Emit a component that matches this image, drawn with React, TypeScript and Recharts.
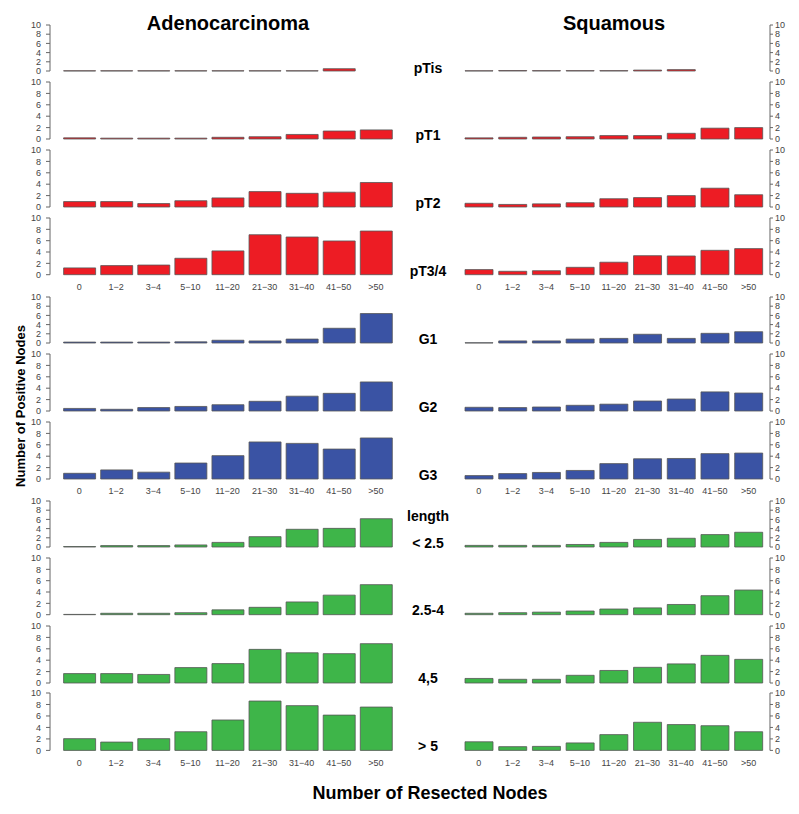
import { BarChart, Bar, XAxis, YAxis } from 'recharts';

const nodeBins = ['0', '1−2', '3−4', '5−10', '11−20', '21−30', '31−40', '41−50', '>50'];
const yTicks = [0, 2, 4, 6, 8, 10];

// Adenocarcinoma, mean positive nodes per bin
const adenoPTis = [0.05, 0.05, 0.05, 0.05, 0.05, 0.05, 0.05, 0.5, null];
const adenoPT1 = [0.2, 0.15, 0.15, 0.15, 0.3, 0.4, 0.8, 1.4, 1.6];
const adenoPT2 = [0.95, 0.95, 0.6, 1.1, 1.6, 2.7, 2.4, 2.6, 4.3];
const adenoPT34 = [1.2, 1.6, 1.7, 2.9, 4.2, 7.05, 6.65, 5.95, 7.7];
const adenoG1 = [0.2, 0.2, 0.2, 0.25, 0.6, 0.45, 0.85, 3.2, 6.4];
const adenoG2 = [0.45, 0.3, 0.6, 0.8, 1.1, 1.7, 2.6, 3.1, 5.1];
const adenoG3 = [1.0, 1.6, 1.2, 2.8, 4.1, 6.5, 6.25, 5.25, 7.2];
const adenoLen25 = [0.1, 0.3, 0.3, 0.45, 1.0, 2.25, 3.85, 4.05, 6.15];
const adenoLen254 = [0.05, 0.25, 0.25, 0.35, 0.85, 1.3, 2.25, 3.45, 5.3];
const adenoLen45 = [1.65, 1.65, 1.5, 2.7, 3.4, 5.9, 5.3, 5.15, 6.9];
const adenoLen5 = [2.05, 1.45, 2.05, 3.25, 5.3, 8.6, 7.8, 6.15, 7.55];

// Squamous
const squamPTis = [0.05, 0.1, 0.08, 0.08, 0.08, 0.2, 0.3, null, null];
const squamPT1 = [0.2, 0.3, 0.35, 0.4, 0.6, 0.6, 1.0, 1.9, 2.0];
const squamPT2 = [0.65, 0.45, 0.55, 0.75, 1.45, 1.65, 2.0, 3.3, 2.15];
const squamPT34 = [0.9, 0.6, 0.7, 1.3, 2.2, 3.35, 3.3, 4.3, 4.6];
const squamG1 = [0.05, 0.45, 0.45, 0.85, 1.0, 1.9, 1.0, 2.1, 2.45];
const squamG2 = [0.65, 0.6, 0.7, 1.0, 1.2, 1.75, 2.1, 3.35, 3.15];
const squamG3 = [0.6, 0.95, 1.15, 1.5, 2.7, 3.55, 3.6, 4.45, 4.55];
const squamLen25 = [0.35, 0.35, 0.35, 0.55, 1.0, 1.65, 1.9, 2.7, 3.2];
const squamLen254 = [0.25, 0.35, 0.45, 0.65, 1.0, 1.2, 1.8, 3.35, 4.35];
const squamLen45 = [0.8, 0.65, 0.65, 1.35, 2.2, 2.75, 3.35, 4.85, 4.15];
const squamLen5 = [1.5, 0.65, 0.7, 1.3, 2.75, 4.9, 4.5, 4.3, 3.25];

const RED = '#ED1C24';
const BLUE = '#3A53A4';
const GREEN = '#3EB549';
const FONT = '"Liberation Sans", Arial, Helvetica, sans-serif';

// top = pixel y of value 10, bottom = pixel y of value 0
const rows = [
  { label: 'pTis', adeno: adenoPTis, squam: squamPTis, color: RED, top: 25, bottom: 71, labelY: 68, showX: false },
  { label: 'pT1', adeno: adenoPT1, squam: squamPT1, color: RED, top: 82.3, bottom: 139.3, labelY: 135, showX: false },
  { label: 'pT2', adeno: adenoPT2, squam: squamPT2, color: RED, top: 150.3, bottom: 207.3, labelY: 203, showX: false },
  { label: 'pT3/4', adeno: adenoPT34, squam: squamPT34, color: RED, top: 218.3, bottom: 275, labelY: 271, showX: true },
  { label: 'G1', adeno: adenoG1, squam: squamG1, color: BLUE, top: 296.7, bottom: 342.7, labelY: 339, showX: false },
  { label: 'G2', adeno: adenoG2, squam: squamG2, color: BLUE, top: 354, bottom: 411, labelY: 407, showX: false },
  { label: 'G3', adeno: adenoG3, squam: squamG3, color: BLUE, top: 422, bottom: 479, labelY: 475, showX: true },
  { label: '< 2.5', adeno: adenoLen25, squam: squamLen25, color: GREEN, top: 500.7, bottom: 546.7, labelY: 543, showX: false },
  { label: '2.5-4', adeno: adenoLen254, squam: squamLen254, color: GREEN, top: 558, bottom: 614.7, labelY: 610, showX: false },
  { label: '4,5', adeno: adenoLen45, squam: squamLen45, color: GREEN, top: 625.7, bottom: 682.7, labelY: 678, showX: false },
  { label: '> 5', adeno: adenoLen5, squam: squamLen5, color: GREEN, top: 693.3, bottom: 750.7, labelY: 746, showX: true },
];

function Panel(props: {
  values: (number | null)[];
  color: string;
  side: 'left' | 'right';
  top: number;
  bottom: number;
  showX: boolean;
}) {
  const { values, color, side, top, bottom, showX } = props;
  const data = nodeBins.map((b, i) => ({ bin: b, v: values[i] }));
  const mt = 6;
  const mb = showX ? 0 : 4;
  const xh = 20;
  const h = bottom - top + mt + (showX ? xh : mb);
  const isLeft = side === 'left';
  const tickStyle = { fontSize: 9, fill: '#444', fontFamily: FONT };

  return (
    <div style={{ position: 'absolute', left: isLeft ? 0 : 400, top: top - mt }}>
      <BarChart
        width={400}
        height={h}
        data={data}
        margin={isLeft ? { top: mt, right: 5.6, bottom: mb, left: 0 } : { top: mt, right: 0, bottom: mb, left: 62 }}
      >
        <XAxis
          dataKey="bin"
          hide={!showX}
          height={xh}
          axisLine={false}
          tickLine={false}
          tickSize={0}
          tickMargin={9}
          interval={0}
          tick={tickStyle}
          padding={isLeft ? { left: 10.6, right: 0 } : { left: 0, right: 4.6 }}
        />
        <YAxis
          orientation={isLeft ? 'left' : 'right'}
          width={isLeft ? 50 : 30}
          domain={[0, 10]}
          ticks={yTicks}
          interval={0}
          tickSize={isLeft ? 4 : 3}
          tickMargin={isLeft ? 5 : 2}
          tick={tickStyle}
          axisLine={{ stroke: '#666' }}
          tickLine={{ stroke: '#666' }}
        />
        <Bar
          dataKey="v"
          fill={color}
          stroke="#555"
          strokeWidth={0.8}
          barSize={isLeft ? 32 : 28}
          isAnimationActive={false}
        />
      </BarChart>
    </div>
  );
}

export default function App() {
  return (
    <div
      style={{
        position: 'absolute',
        left: 0,
        top: 0,
        width: 799,
        height: 814,
        background: '#fff',
        fontFamily: FONT,
      }}
    >
      {rows.map((r) => (
        <Panel key={'a' + r.label} values={r.adeno} color={r.color} side="left" top={r.top} bottom={r.bottom} showX={r.showX} />
      ))}
      {rows.map((r) => (
        <Panel key={'s' + r.label} values={r.squam} color={r.color} side="right" top={r.top} bottom={r.bottom} showX={r.showX} />
      ))}
      <svg
        width={799}
        height={814}
        style={{ position: 'absolute', left: 0, top: 0, pointerEvents: 'none' }}
        fontFamily={FONT}
        fontWeight="bold"
      >
        <text x={228} y={23} textAnchor="middle" dominantBaseline="central" fontSize={20}>
          Adenocarcinoma
        </text>
        <text x={614} y={23} textAnchor="middle" dominantBaseline="central" fontSize={20}>
          Squamous
        </text>
        {rows.map((r) => (
          <text key={r.label} x={428} y={r.labelY} textAnchor="middle" dominantBaseline="central" fontSize={14}>
            {r.label}
          </text>
        ))}
        <text x={428} y={516} textAnchor="middle" dominantBaseline="central" fontSize={14}>
          length
        </text>
        <text
          x={20}
          y={406}
          textAnchor="middle"
          dominantBaseline="central"
          fontSize={13}
          transform="rotate(-90 20 406)"
        >
          Number of Positive Nodes
        </text>
        <text x={430} y={793} textAnchor="middle" dominantBaseline="central" fontSize={18}>
          Number of Resected Nodes
        </text>
      </svg>
    </div>
  );
}
